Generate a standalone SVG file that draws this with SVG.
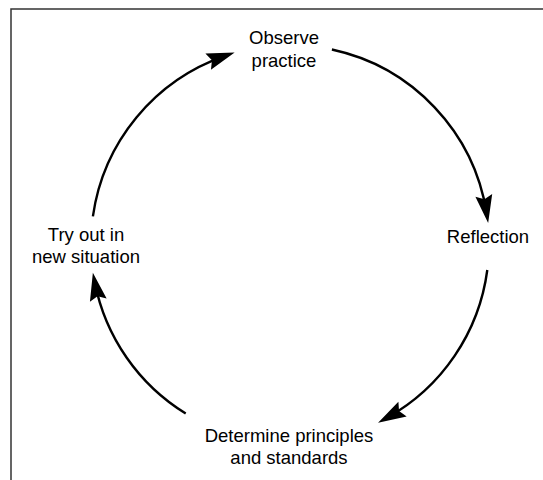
<svg xmlns="http://www.w3.org/2000/svg" width="543" height="480" viewBox="0 0 543 480">
<style>
.lbl{font-family:"Liberation Sans",Arial,Helvetica,sans-serif;font-size:18.5px;fill:#000;text-anchor:middle}
.arc{fill:none;stroke:#000;stroke-width:2.4;marker-end:url(#ah)}
.frame{fill:none;stroke:#333;stroke-width:1.5}
</style>
<defs>
<marker id="ah" markerUnits="userSpaceOnUse" markerWidth="36" markerHeight="20" refX="24" refY="10" orient="auto" overflow="visible">
<path d="M34,10 L6,1.5 L10,10 L6,18.5 Z" fill="#000"/>
</marker>
</defs>
<rect width="543" height="480" fill="#fff"/>
<path class="frame" d="M543,9 L11,9 L11,480"/>
<g id="connectors">
<path class="arc" d="M331.9,49.5 A199,199 0 0 1 486.6,213.1"/>
<path class="arc" d="M487.3,270 A199,199 0 0 1 386.8,417.9"/>
<path class="arc" d="M185.7,413.5 A199,199 0 0 1 94.8,282.5"/>
<path class="arc" d="M92.9,216.3 A199,199 0 0 1 225.2,55.8"/>
</g>
<g id="observe"><text class="lbl" x="284" y="44">Observe</text><text class="lbl" x="284" y="67">practice</text></g>
<g id="reflection"><text class="lbl" x="488" y="243">Reflection</text></g>
<g id="determine"><text class="lbl" x="289" y="442">Determine principles</text><text class="lbl" x="289" y="464">and standards</text></g>
<g id="tryout"><text class="lbl" x="86" y="241">Try out in</text><text class="lbl" x="86" y="263">new situation</text></g>
</svg>
